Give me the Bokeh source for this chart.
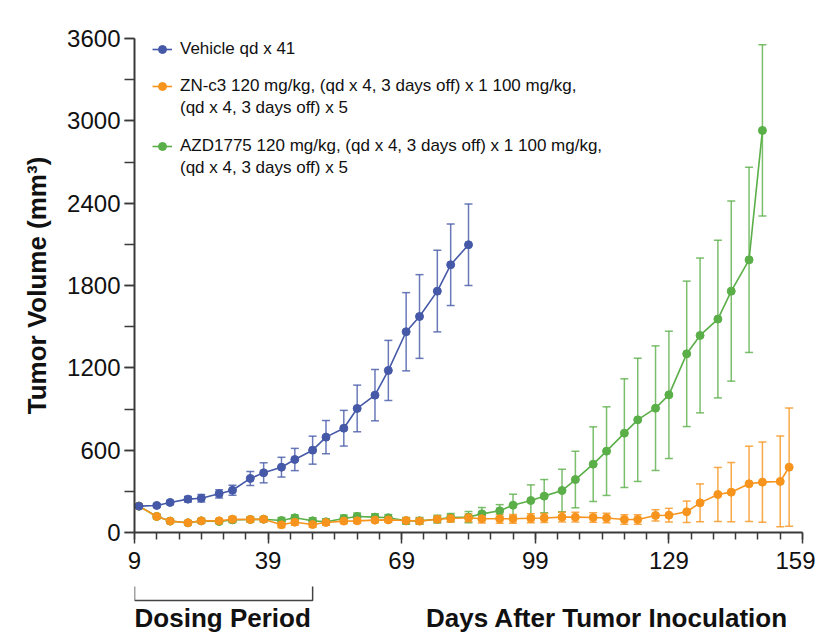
import numpy as np
from bokeh.plotting import figure
from bokeh.layouts import column
from bokeh.core.properties import value
from bokeh.models import (Range1d, FixedTicker, Whisker, TeeHead, ColumnDataSource,
                          Legend, LegendItem)
from bokeh.embed import file_html
from bokeh.resources import INLINE

# ---------------- data ----------------
days = [10, 14, 17, 21, 24, 28, 31, 35, 38, 42, 45, 49, 52, 56, 59, 63, 66, 70, 73, 77,
        80, 84, 87, 91, 94, 98, 101, 105, 108, 112, 115, 119, 122, 126, 129, 133, 136,
        140, 143, 147, 150]
orange_extra_days = [154, 156]

vehicle_days = days[:22]
vehicle_vals = [192, 197, 219, 243, 250, 282, 308, 394, 435, 476, 532, 600, 695, 760,
                904, 1001, 1181, 1463, 1574, 1759, 1951, 2097]
vehicle_err = [8, 12, 15, 20, 27, 30, 36, 51, 73, 72, 81, 102, 121, 130, 170, 187, 219,
               285, 305, 297, 297, 297]

zn_days = days + orange_extra_days
zn_vals = [192, 117, 83, 71, 85, 85, 97, 95, 97, 56, 75, 58, 73, 83, 85, 90, 92, 87, 83,
           97, 102, 107, 100, 100, 100, 104, 106, 112, 112, 109, 106, 95, 95, 124, 126,
           151, 216, 277, 294, 355, 367, 372, 476]
zn_err = [8, 15, 12, 12, 15, 15, 20, 18, 18, 20, 22, 20, 20, 18, 18, 18, 18, 20, 20, 22,
          25, 28, 30, 32, 32, 33, 33, 35, 35, 35, 35, 35, 35, 41, 50, 78, 138, 197, 216,
          274, 292, 331, 431]

azd_days = days
azd_vals = [192, 117, 83, 71, 85, 80, 92, 95, 97, 87, 107, 85, 78, 102, 117, 112, 107, 85,
            85, 97, 109, 112, 136, 158, 199, 233, 265, 306, 386, 498, 593, 724, 821, 906,
            1003, 1302, 1436, 1555, 1759, 1987, 2930]
azd_err = [8, 15, 12, 12, 15, 15, 20, 18, 18, 22, 20, 22, 22, 25, 25, 25, 25, 25, 25, 28,
           30, 41, 46, 45, 80, 114, 121, 155, 206, 272, 323, 396, 449, 454, 464, 530, 564,
           574, 656, 675, 624]

label_lines = [["Vehicle qd x 41"],
               ["ZN-c3 120 mg/kg, (qd x 4, 3 days off) x 1 100 mg/kg,",
                "(qd x 4, 3 days off) x 5"],
               ["AZD1775 120 mg/kg, (qd x 4, 3 days off) x 1 100 mg/kg,",
                "(qd x 4, 3 days off) x 5"]]
colors = ["#4559A8", "#F7941D", "#5AAF48"]

x_major = [9, 39, 69, 99, 129, 159]
y_major = [0, 600, 1200, 1800, 2400, 3000, 3600]

bracket_days = [9, 49]
bottom_texts = ["Dosing Period", "Days After Tumor Inoculation"]
bottom_text_x = [28.8, 115.1]

# ---------------- main figure ----------------
FONT = "Liberation Sans"
AXIS_COLOR = "#3a3a3a"
TXT = "#111111"

p = figure(width=815, height=585, output_backend="svg", toolbar_location=None,
           x_range=Range1d(9, 159), y_range=Range1d(0, 3600),
           min_border_left=134, min_border_right=13, min_border_top=38,
           min_border_bottom=53)
p.outline_line_color = None
p.xgrid.visible = False
p.ygrid.visible = False
p.background_fill_color = "white"
p.border_fill_color = "white"

for ax in (p.xaxis[0], p.yaxis[0]):
    ax.axis_line_color = AXIS_COLOR
    ax.axis_line_width = 2
    ax.major_tick_line_color = AXIS_COLOR
    ax.minor_tick_line_color = AXIS_COLOR
    ax.major_tick_line_width = 1.5
    ax.minor_tick_line_width = 1.5
    ax.major_tick_in = 0
    ax.minor_tick_in = 0
    ax.major_label_text_font = FONT
    ax.major_label_text_font_size = "24px"
    ax.major_label_text_color = TXT

p.xaxis.ticker = FixedTicker(ticks=x_major, minor_ticks=list(range(9, 160, 5)))
p.yaxis.ticker = FixedTicker(ticks=y_major, minor_ticks=list(range(0, 3601, 300)))
p.xaxis.major_tick_out = 11
p.xaxis.minor_tick_out = 7
p.xaxis.major_label_standoff = 8
p.yaxis.major_tick_out = 10
p.yaxis.minor_tick_out = 10
p.yaxis.major_label_standoff = 4

p.yaxis.axis_label = "Tumor Volume (mm³)"
p.yaxis.axis_label_text_font = FONT
p.yaxis.axis_label_text_font_style = "bold"
p.yaxis.axis_label_text_font_size = "26px"
p.yaxis.axis_label_text_color = TXT
p.yaxis.axis_label_standoff = 12

# ---------------- series ----------------
series = [(azd_days, azd_vals, azd_err, colors[2], 2),
          (zn_days, zn_vals, zn_err, colors[1], 1),
          (vehicle_days, vehicle_vals, vehicle_err, colors[0], 0)]

rend = {}
for d, v, e, c, k in series:
    v = np.array(v, dtype=float)
    e = np.array(e, dtype=float)
    src = ColumnDataSource(dict(x=d, y=v, upper=v + e, lower=v - e))
    w = Whisker(base="x", upper="upper", lower="lower", source=src,
                line_color=c, line_width=1.5, line_alpha=0.8, level="underlay",
                upper_head=TeeHead(size=8, line_color=c, line_width=1.5, line_alpha=0.8),
                lower_head=TeeHead(size=8, line_color=c, line_width=1.5, line_alpha=0.8))
    p.add_layout(w)
    ln = p.line("x", "y", source=src, line_color=c, line_width=1.6)
    sc = p.scatter("x", "y", source=src, size=8, fill_color=c, line_color=c)
    rend[k] = [ln, sc]

# invisible renderer for continuation lines of legend labels
blank = p.scatter(x=[], y=[], fill_alpha=0, line_alpha=0)

legend_bottoms = [472, 413, 353]   # px above frame bottom
for k, lines in enumerate(label_lines):
    its = [LegendItem(label=lines[0], renderers=rend[k])]
    for extra in lines[1:]:
        its.append(LegendItem(label=extra, renderers=[blank]))
    lg = Legend(items=its, location=(18, legend_bottoms[k]), padding=0, margin=0,
                spacing=0, glyph_width=20, glyph_height=22, label_standoff=8,
                label_height=22, label_text_font=FONT, label_text_font_size="17px",
                label_text_color=TXT, border_line_alpha=0, background_fill_alpha=0)
    p.add_layout(lg)

# ---------------- bottom strip: bracket + labels ----------------
p2 = figure(width=815, height=56, output_backend="svg", toolbar_location=None,
            x_range=p.x_range, y_range=Range1d(56, 0),
            x_axis_type=None, y_axis_type=None,
            min_border_left=134, min_border_right=13, min_border_top=0,
            min_border_bottom=0)
p2.outline_line_color = None
p2.background_fill_color = "white"
p2.border_fill_color = "white"

b0, b1 = bracket_days
p2.line(x=[b0, b0, b1, b1], y=[1, 15, 15, 1], line_color="#444444", line_width=1.5)
p2.text(x=bottom_text_x, y=[32, 32], text=bottom_texts, text_align="center",
        text_baseline="middle", text_font=value(FONT), text_font_style="bold",
        text_font_size="26px", text_color=TXT)

layout = column(p, p2, spacing=0)
open("out.html", "w").write(file_html(layout, INLINE))
